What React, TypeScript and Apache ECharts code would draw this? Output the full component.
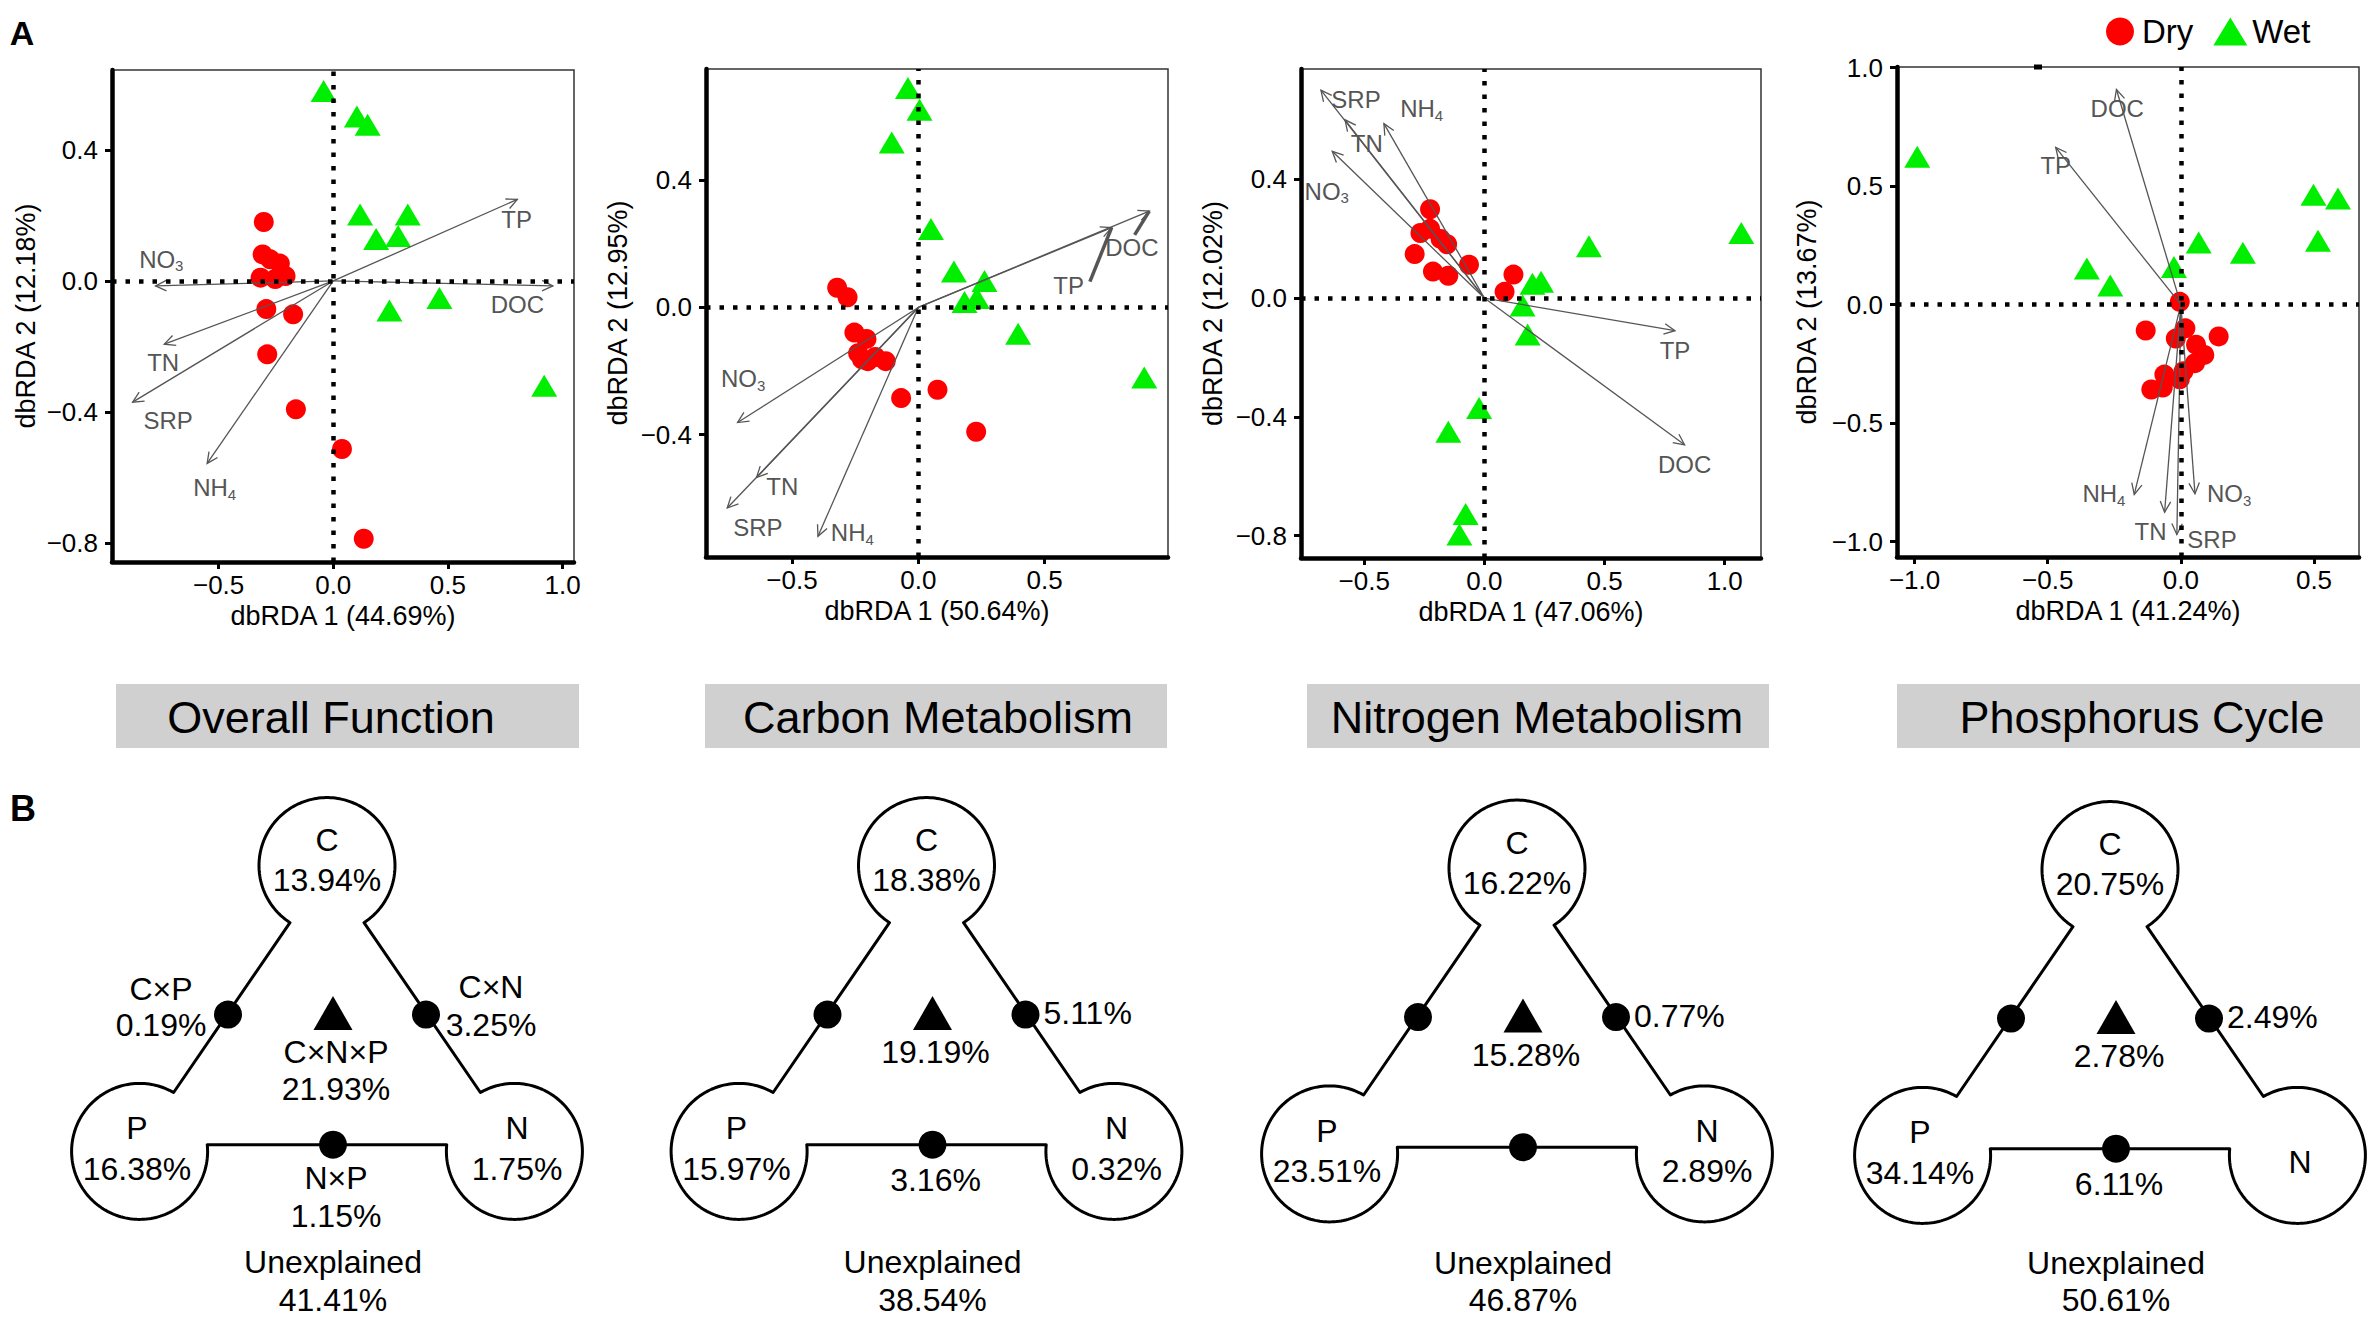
import React, { useEffect, useRef } from 'react';
import * as echarts from 'echarts';

const FONT = '"Liberation Sans", Arial, Helvetica, sans-serif';

// ---------- Panel A data ----------
const axis1Pct = [44.69, 50.64, 47.06, 41.24];
const axis2Pct = [12.18, 12.95, 12.02, 13.67];
const groupNames = ['Dry', 'Wet'];
const envNames = ['TP', 'DOC', 'NO3', 'TN', 'SRP', 'NH4'];

const dry1 = [[-0.303, 0.18], [-0.308, 0.081], [-0.275, 0.066], [-0.233, 0.053], [-0.317, 0.01], [-0.253, 0.006], [-0.208, 0.015], [-0.292, -0.086], [-0.175, -0.102], [-0.288, -0.224], [-0.163, -0.392], [0.038, -0.513], [0.133, -0.787]];
const wet1 = [[-0.042, 0.58], [0.103, 0.502], [0.15, 0.477], [0.117, 0.203], [0.325, 0.203], [0.187, 0.128], [0.283, 0.137], [0.463, -0.052], [0.245, -0.09], [0.92, -0.32]];
const tips1 = [[0.803, 0.249], [0.958, -0.015], [-0.775, -0.015], [-0.737, -0.193], [-0.875, -0.37], [-0.55, -0.557]];
const labs1 = [[0.8, 0.187], [0.803, -0.071], [-0.75, 0.066], [-0.742, -0.249], [-0.72, -0.426], [-0.517, -0.631]];

const dry2 = [[-0.321, 0.062], [-0.28, 0.032], [-0.253, -0.079], [-0.205, -0.099], [-0.238, -0.144], [-0.223, -0.163], [-0.17, -0.156], [-0.129, -0.169], [-0.2, -0.169], [-0.068, -0.285], [0.076, -0.259], [0.229, -0.391]];
const wet2 = [[-0.041, 0.69], [0.005, 0.622], [-0.105, 0.519], [0.05, 0.247], [0.141, 0.113], [0.262, 0.083], [0.183, 0.017], [0.232, 0.03], [0.395, -0.083], [0.894, -0.22]];
const tips2 = [[0.765, 0.251], [0.914, 0.303], [-0.715, -0.362], [-0.64, -0.535], [-0.756, -0.631], [-0.397, -0.72]];
const labs2 = [[0.595, 0.07], [0.845, 0.19], [-0.693, -0.224], [-0.538, -0.563], [-0.635, -0.692], [-0.261, -0.708]];
const segs2 = [[0.679, 0.081], [0.856, 0.228], null, null, null, null];

const dry3 = [[-0.226, 0.299], [-0.266, 0.219], [-0.226, 0.233], [-0.182, 0.199], [-0.155, 0.181], [-0.29, 0.148], [-0.214, 0.089], [-0.15, 0.075], [-0.064, 0.112], [0.121, 0.079], [0.084, 0.021]];
const wet3 = [[1.069, 0.219], [0.435, 0.174], [0.236, 0.055], [0.2, 0.048], [0.159, -0.025], [0.18, -0.123], [-0.022, -0.37], [-0.15, -0.45], [-0.078, -0.727], [-0.104, -0.796]];
const tips3 = [[0.793, -0.11], [0.833, -0.494], [-0.633, 0.494], [-0.58, 0.6], [-0.68, 0.7], [-0.418, 0.587]];
const labs3 = [[0.793, -0.176], [0.833, -0.56], [-0.656, 0.36], [-0.489, 0.521], [-0.534, 0.669], [-0.261, 0.638]];

const dry4 = [[-0.004, 0.012], [-0.132, -0.109], [0.017, -0.1], [-0.019, -0.143], [0.142, -0.134], [0.057, -0.169], [0.088, -0.212], [0.053, -0.247], [0.01, -0.281], [-0.062, -0.295], [-0.004, -0.315], [-0.068, -0.35], [-0.111, -0.358]];
const wet4 = [[-0.99, 0.624], [0.498, 0.464], [0.59, 0.448], [0.515, 0.27], [0.067, 0.262], [0.233, 0.219], [-0.353, 0.153], [-0.265, 0.081], [-0.026, 0.159]];
const tips4 = [[-0.47, 0.664], [-0.242, 0.908], [0.053, -0.798], [-0.061, -0.876], [-0.015, -0.97], [-0.175, -0.801]];
const labs4 = [[-0.47, 0.589], [-0.239, 0.826], [0.181, -0.798], [-0.114, -0.958], [0.117, -0.991], [-0.289, -0.798]];

const xRanges = [[-0.965, 1.05], [-0.84, 0.988], [-0.763, 1.151], [-1.066, 0.669]];
const yRanges = [[-0.858, 0.644], [-0.785, 0.75], [-0.875, 0.771], [-1.065, 1.003]];
const xTicks = [[-0.5, 0, 0.5, 1], [-0.5, 0, 0.5], [-0.5, 0, 0.5, 1], [-1, -0.5, 0, 0.5]];
const yTicks = [[-0.8, -0.4, 0, 0.4], [-0.4, 0, 0.4], [-0.8, -0.4, 0, 0.4], [-1, -0.5, 0, 0.5, 1]];

// ---------- Panel B data ----------
const diagramTitles = ['Overall Function', 'Carbon Metabolism', 'Nitrogen Metabolism', 'Phosphorus Cycle'];
const cVals = [13.94, 18.38, 16.22, 20.75];
const pVals = [16.38, 15.97, 23.51, 34.14];
const nVals: (number | null)[] = [1.75, 0.32, 2.89, null];
const cpVals: (number | null)[] = [0.19, null, null, null];
const cnVals: (number | null)[] = [3.25, 5.11, 0.77, 2.49];
const npVals: (number | null)[] = [1.15, 3.16, null, 6.11];
const cnpVals = [21.93, 19.19, 15.28, 2.78];
const unexplainedVals = [41.41, 38.54, 46.87, 50.61];
const showTermNames = [true, false, false, false];

// ---------- layout ----------
const grids = [
  { left: 112, top: 70, width: 462, height: 492 },
  { left: 706, top: 69, width: 462, height: 488 },
  { left: 1301, top: 69, width: 460, height: 489 },
  { left: 1897, top: 67, width: 462, height: 490 },
];
const yNameGaps = [73, 75, 75, 77];
const bannerRects = [[116, 579], [705, 1167], [1307, 1769], [1897, 2360]];
const bannerTextX = [331, 938, 1537, 2142];
const diagramCx = [327, 926.5, 1517, 2110];
const diagramDy = [0, 0, 2.5, 4];

const RED = '#ff0000';
const GREEN = '#00ee00';
const ARROW = '#555555';

const pct = (v: number) => v.toFixed(2) + '%';
const fmtTick = (v: number) => (v < 0 ? '\u2212' : '') + Math.abs(v).toFixed(1);
const richName = (s: string) => s.replace(/(\d+)$/, '{sub|$1}');

function arrowSeries(i: number, tips: number[][], labs: number[][], segs: (number[] | null)[] | null) {
  return {
    type: 'custom',
    xAxisIndex: i,
    yAxisIndex: i,
    silent: true,
    z: 4,
    data: tips.map((t, k) => [t[0], t[1], labs[k][0], labs[k][1]]),
    renderItem: (params: any, api: any) => {
      const k = params.dataIndex;
      const o = api.coord([0, 0]);
      const p = api.coord([api.value(0), api.value(1)]);
      const l = api.coord([api.value(2), api.value(3)]);
      const ang = Math.atan2(p[1] - o[1], p[0] - o[0]);
      const h = 12;
      const a = 0.45;
      const h1 = [p[0] - h * Math.cos(ang - a), p[1] - h * Math.sin(ang - a)];
      const h2 = [p[0] - h * Math.cos(ang + a), p[1] - h * Math.sin(ang + a)];
      const children: any[] = [
        { type: 'line', shape: { x1: o[0], y1: o[1], x2: p[0], y2: p[1] }, style: { stroke: ARROW, lineWidth: 1.3 } },
        { type: 'polyline', shape: { points: [h1, p, h2] }, style: { stroke: ARROW, lineWidth: 1.3, fill: null } },
        {
          type: 'text', x: l[0], y: l[1],
          style: {
            text: richName(envNames[k]), fill: ARROW, fontSize: 24, fontFamily: FONT,
            align: 'center', verticalAlign: 'middle', lineHeight: 28,
            rich: { sub: { fontSize: 15, lineHeight: 14, verticalAlign: 'bottom', fill: ARROW, fontFamily: FONT } },
          },
        },
      ];
      if (segs && segs[k]) {
        const s = api.coord(segs[k] as number[]);
        children.push({ type: 'line', shape: { x1: s[0], y1: s[1], x2: p[0], y2: p[1] }, style: { stroke: ARROW, lineWidth: 3.5 } });
      }
      return { type: 'group', children };
    },
  };
}

function arcPts(cx: number, cy: number, r: number, a0: number, a1: number) {
  const pts: number[][] = [];
  const n = Math.max(2, Math.ceil(Math.abs(a1 - a0) / 2));
  for (let i = 0; i <= n; i++) {
    const a = ((a0 + ((a1 - a0) * i) / n) * Math.PI) / 180;
    pts.push([cx + r * Math.cos(a), cy + r * Math.sin(a)]);
  }
  return pts;
}

function txt(x: number, y: number, text: string, size = 32, align = 'center', extra: any = {}) {
  return {
    type: 'text', x, y, silent: true,
    style: { text, fill: '#000', fontSize: size, fontFamily: FONT, align, verticalAlign: 'middle', ...extra },
  };
}

function diagram(k: number) {
  const cx = diagramCx[k];
  const dy = diagramDy[k];
  const cyC = 865.6 + dy;
  const cyP = 1151.4 + dy;
  const D = 187.4;
  const R = 68;
  const outline = [
    ...arcPts(cx, cyC, R, 57, -237),
    ...arcPts(cx - D, cyP, R, -60, -365.65),
    ...arcPts(cx + D, cyP, R, 185.65, -120),
  ];
  const els: any[] = [];
  els.push({ type: 'polygon', silent: true, shape: { points: outline }, style: { fill: null, stroke: '#000', lineWidth: 3, lineJoin: 'round' } });
  const dotR = 14;
  els.push({ type: 'circle', silent: true, shape: { cx: cx - 99, cy: 1014.6 + dy, r: dotR }, style: { fill: '#000' } });
  els.push({ type: 'circle', silent: true, shape: { cx: cx + 99, cy: 1014.6 + dy, r: dotR }, style: { fill: '#000' } });
  els.push({ type: 'circle', silent: true, shape: { cx: cx + 6, cy: cyP - 6.7, r: dotR }, style: { fill: '#000' } });
  const tx = cx + 6;
  const ty = 1013 + dy;
  els.push({ type: 'polygon', silent: true, shape: { points: [[tx, ty - 17], [tx - 19.5, ty + 17], [tx + 19.5, ty + 17]] }, style: { fill: '#000' } });

  const names = showTermNames[k];
  // main effects
  els.push(txt(cx, 840.4 + dy, 'C'));
  els.push(txt(cx, 880.3 + dy, pct(cVals[k])));
  els.push(txt(cx - 190, 1128 + dy, 'P'));
  els.push(txt(cx - 190, 1168.6 + dy, pct(pVals[k])));
  const nv = nVals[k];
  if (nv !== null) {
    els.push(txt(cx + 190, 1128 + dy, 'N'));
    els.push(txt(cx + 190, 1168.6 + dy, pct(nv)));
  } else {
    els.push(txt(cx + 190, 1157.5 + dy, 'N'));
  }
  // interactions
  const cp = cpVals[k];
  if (cp !== null) {
    if (names) els.push(txt(cx - 166, 989.4 + dy, 'C\u00d7P'));
    els.push(txt(cx - 166, 1025 + dy, pct(cp)));
  }
  const cn = cnVals[k];
  if (cn !== null) {
    if (names) {
      els.push(txt(cx + 164, 987.3 + dy, 'C\u00d7N'));
      els.push(txt(cx + 164, 1025 + dy, pct(cn)));
    } else {
      els.push(txt(cx + 117, 1013 + dy, pct(cn), 32, 'left'));
    }
  }
  if (names) {
    els.push(txt(cx + 9, 1052.4 + dy, 'C\u00d7N\u00d7P'));
    els.push(txt(cx + 9, 1089 + dy, pct(cnpVals[k])));
  } else {
    els.push(txt(cx + 9, 1052.4 + dy, pct(cnpVals[k])));
  }
  const np = npVals[k];
  if (np !== null) {
    if (names) {
      els.push(txt(cx + 9, 1178.3 + dy, 'N\u00d7P'));
      els.push(txt(cx + 9, 1216 + dy, pct(np)));
    } else {
      els.push(txt(cx + 9, 1180.4 + dy, pct(np)));
    }
  }
  els.push(txt(cx + 6, Math.min(1262.2 + dy, 1262.5), 'Unexplained'));
  els.push(txt(cx + 6, 1299.5, pct(unexplainedVals[k])));
  return els;
}

function buildOption() {
  const dries = [dry1, dry2, dry3, dry4];
  const wets = [wet1, wet2, wet3, wet4];
  const tips = [tips1, tips2, tips3, tips4];
  const labs = [labs1, labs2, labs3, labs4];
  const segs = [null, segs2, null, null];

  const series: any[] = [];
  for (let i = 0; i < 4; i++) {
    series.push({
      name: groupNames[0], type: 'scatter', xAxisIndex: i, yAxisIndex: i, symbol: 'circle', symbolSize: 20,
      itemStyle: { color: RED, opacity: 1 }, data: dries[i], z: 2, silent: true,
    });
    series.push({
      name: groupNames[1], type: 'scatter', xAxisIndex: i, yAxisIndex: i, symbol: 'triangle', symbolSize: [26, 22],
      itemStyle: { color: GREEN, opacity: 1 }, data: wets[i], z: 2, silent: true,
    });
    series.push(arrowSeries(i, tips[i], labs[i], segs[i] as any));
    series.push({
      name: 'ref' + i, type: 'scatter', xAxisIndex: i, yAxisIndex: i, data: [], z: 5, silent: true,
      markLine: {
        silent: true, symbol: 'none', label: { show: false }, animation: false,
        lineStyle: { color: '#000', type: [4.5, 9], width: 4.5, cap: 'butt' },
        data: [{ xAxis: 0 }, { yAxis: 0 }],
      },
    });
  }

  const graphic: any[] = [];
  graphic.push(txt(22, 33, 'A', 34, 'center', { fontWeight: 'bold' }));
  graphic.push(txt(23, 808, 'B', 36, 'center', { fontWeight: 'bold' }));
  // small dash on the top border of the last panel
  graphic.push({ type: 'rect', silent: true, shape: { x: 2034, y: 64.5, width: 8, height: 5 }, style: { fill: '#000' } });
  for (let k = 0; k < 4; k++) {
    const [x0, x1] = bannerRects[k];
    graphic.push({ type: 'rect', silent: true, shape: { x: x0, y: 684, width: x1 - x0, height: 64 }, style: { fill: '#d0d0d0' } });
    graphic.push(txt(bannerTextX[k], 717, diagramTitles[k], 45));
    graphic.push(...diagram(k));
  }

  return {
    animation: false,
    backgroundColor: '#fff',
    textStyle: { fontFamily: FONT },
    legend: {
      data: groupNames,
      left: 2101, top: 10,
      itemWidth: 34, itemHeight: 28, itemGap: 20,
      selectedMode: false,
      textStyle: { fontSize: 33, color: '#000', fontFamily: FONT },
    },
    grid: grids.map((g) => ({ ...g, show: true, borderColor: '#333', borderWidth: 1.5, backgroundColor: 'transparent', containLabel: false })),
    xAxis: grids.map((g, i) => ({
      gridIndex: i, type: 'value', min: xRanges[i][0], max: xRanges[i][1],
      name: `dbRDA 1 (${axis1Pct[i].toFixed(2)}%)`, nameLocation: 'middle', nameGap: 40,
      nameTextStyle: { fontSize: 27, color: '#000', fontFamily: FONT },
      axisLine: { show: true, onZero: false, lineStyle: { color: '#000', width: 4.5 } },
      axisTick: { show: true, customValues: xTicks[i], length: 7, lineStyle: { color: '#000', width: 3 } },
      axisLabel: { customValues: xTicks[i], formatter: fmtTick, fontSize: 26, color: '#000', fontFamily: FONT, margin: 10 },
      splitLine: { show: false },
    })),
    yAxis: grids.map((g, i) => ({
      gridIndex: i, type: 'value', min: yRanges[i][0], max: yRanges[i][1],
      name: `dbRDA 2 (${axis2Pct[i].toFixed(2)}%)`, nameLocation: 'middle', nameGap: yNameGaps[i], nameRotate: 90,
      nameTextStyle: { fontSize: 27, color: '#000', fontFamily: FONT },
      axisLine: { show: true, onZero: false, lineStyle: { color: '#000', width: 4.5 } },
      axisTick: { show: true, customValues: yTicks[i], length: 7, lineStyle: { color: '#000', width: 3 } },
      axisLabel: { customValues: yTicks[i], formatter: fmtTick, fontSize: 26, color: '#000', fontFamily: FONT, margin: 14 },
      splitLine: { show: false },
    })),
    series,
    graphic,
  };
}

export default function App() {
  const ref = useRef<HTMLDivElement>(null);
  useEffect(() => {
    if (!ref.current) return;
    const chart = echarts.init(ref.current, null, { renderer: 'svg' });
    chart.setOption(buildOption() as any);
    return () => chart.dispose();
  }, []);
  return (
    <div
      ref={ref}
      style={{ position: 'fixed', left: 0, top: 0, width: 2374, height: 1318, background: '#fff' }}
    />
  );
}
